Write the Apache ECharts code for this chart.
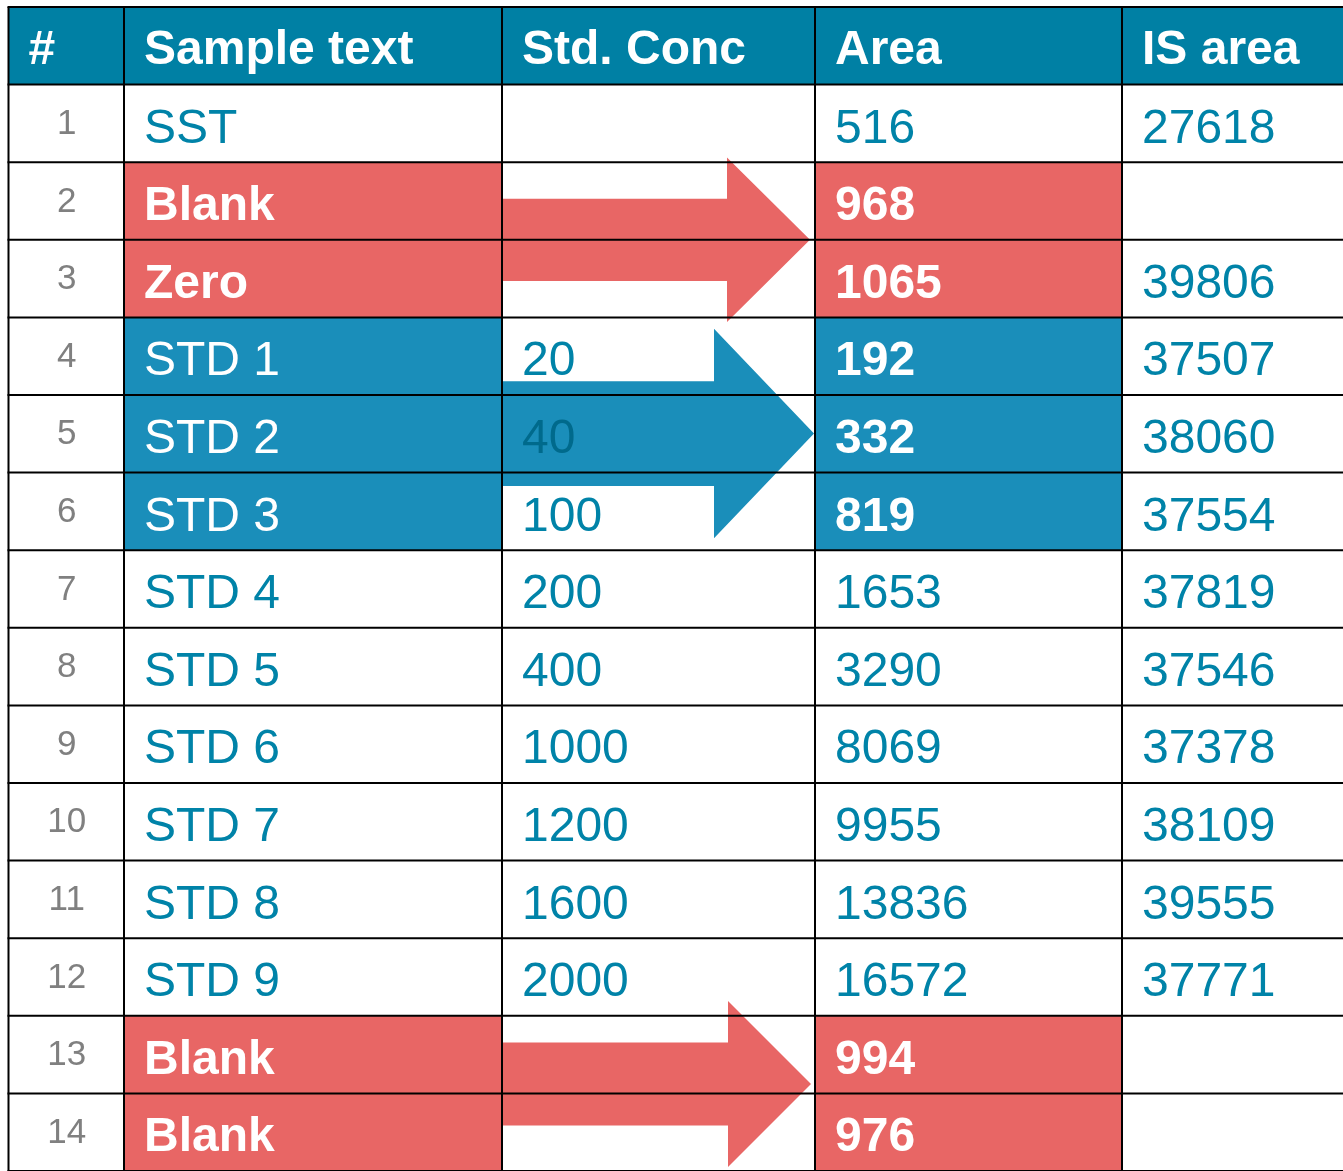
<!DOCTYPE html>
<html><head><meta charset="utf-8">
<style>html,body{margin:0;padding:0;background:#fff}#c{width:1343px;height:1171px}</style>
<script src="https://cdn.jsdelivr.net/npm/echarts@6/dist/echarts.min.js"></script>
</head><body><div id="c"></div>
<script>
// ---- data ----
const headers = ['#', 'Sample text', 'Std. Conc', 'Area', 'IS area'];
const rowNumbers = ['1','2','3','4','5','6','7','8','9','10','11','12','13','14'];
const sampleText = ['SST','Blank','Zero','STD 1','STD 2','STD 3','STD 4','STD 5','STD 6','STD 7','STD 8','STD 9','Blank','Blank'];
const stdConc = ['','','','20','40','100','200','400','1000','1200','1600','2000','',''];
const area = ['516','968','1065','192','332','819','1653','3290','8069','9955','13836','16572','994','976'];
const isArea = ['27618','','39806','37507','38060','37554','37819','37546','37378','38109','39555','37771','',''];
const rowKind = ['plain','blank','blank','std','std','std','plain','plain','plain','plain','plain','plain','blank','blank'];
const arrows = [
  {kind:'blank', fromRow:2, toRow:3},
  {kind:'std',   fromRow:4, toRow:6},
  {kind:'blank', fromRow:13, toRow:14}
];

// ---- layout & style ----
const colEdges = [8.5, 124, 502, 815, 1122, 1420];
const arrowLayout = [
  {dy: 0.0,   half: 1.06, neck: 727, tip: 810},
  {dy: -0.003, half: 1.35, neck: 714, tip: 814},
  {dy: -0.12, half: 1.07, neck: 728, tip: 811}
];
const C = {
  header: '#0080A4',
  red: '#E86665',
  blue: '#1A8EBA',
  teal: '#0083A8',
  tealDark: '#006A8C',
  gray: '#808080',
  white: '#FFFFFF',
  line: '#000000'
};
const FONT = "'Liberation Sans', Arial, sans-serif";
const columns = [rowNumbers, sampleText, stdConc, area, isArea];
const nRows = rowNumbers.length + 1;

const cells = [];
for (let r = 0; r < nRows; r++) for (let c = 0; c < headers.length; c++) cells.push([c, r]);

function fillOf(c, r) {
  if (r === 0) return C.header;
  const k = rowKind[r - 1];
  if ((c === 1 || c === 3) && k === 'blank') return C.red;
  if ((c === 1 || c === 3) && k === 'std') return C.blue;
  return C.white;
}
function arrowGeom(i) {
  const a = arrows[i], L = arrowLayout[i];
  const cy = (a.fromRow + a.toRow + 1) / 2 + L.dy;
  return {cy, h: L.half, s: L.half / 2, x0: colEdges[2], neck: L.neck, tip: L.tip, kind: a.kind};
}
function inShaft(c, r) {
  const cy = r + 0.5;
  for (let i = 0; i < arrows.length; i++) {
    const g = arrowGeom(i);
    if (c === 2 && cy > g.cy - g.s && cy < g.cy + g.s) return true;
  }
  return false;
}

const chart = echarts.init(document.getElementById('c'), null, {width: 1343, height: 1171});
chart.setOption({
  animation: false,
  backgroundColor: '#fff',
  grid: {left: 0, top: 7, width: 1343, height: 77.87 * nRows},
  xAxis: {type: 'value', min: 0, max: 1343, show: false},
  yAxis: {type: 'value', min: 0, max: nRows, inverse: true, show: false},
  series: [
    {
      type: 'custom', z: 1, data: cells,
      renderItem: function (params, api) {
        const c = api.value(0), r = api.value(1);
        const p0 = api.coord([colEdges[c], r]), p1 = api.coord([colEdges[c + 1], r + 1]);
        return {type: 'rect', shape: {x: p0[0], y: p0[1], width: p1[0] - p0[0], height: p1[1] - p0[1]},
          style: {fill: fillOf(c, r)}};
      }
    },
    {
      type: 'custom', z: 2, data: arrows.map((a, i) => [i]),
      renderItem: function (params, api) {
        const g = arrowGeom(api.value(0));
        const pts = [[g.x0, g.cy - g.s], [g.neck, g.cy - g.s], [g.neck, g.cy - g.h], [g.tip, g.cy],
          [g.neck, g.cy + g.h], [g.neck, g.cy + g.s], [g.x0, g.cy + g.s]].map(p => api.coord(p));
        return {type: 'polygon', shape: {points: pts}, style: {fill: g.kind === 'std' ? C.blue : C.red}};
      }
    },
    {
      type: 'custom', z: 3,
      data: colEdges.slice(0, -1).map((x, i) => ['v', i]).concat(Array.from({length: nRows + 1}, (_, i) => ['h', i])),
      renderItem: function (params, api) {
        const item = params.dataIndex < colEdges.length - 1 ? 'v' : 'h';
        let p0, p1;
        if (item === 'v') {
          const x = colEdges[params.dataIndex];
          p0 = api.coord([x, 0]); p1 = api.coord([x, nRows]);
        } else {
          const r = params.dataIndex - (colEdges.length - 1);
          p0 = api.coord([colEdges[0], r]); p1 = api.coord([colEdges[colEdges.length - 1], r]);
          p0[0] -= 1;
        }
        return {type: 'line', shape: {x1: p0[0], y1: p0[1], x2: p1[0], y2: p1[1]},
          style: {stroke: C.line, lineWidth: 2}};
      }
    },
    {
      type: 'custom', z: 4, data: cells,
      renderItem: function (params, api) {
        const c = api.value(0), r = api.value(1);
        const text = r === 0 ? headers[c] : columns[c][r - 1];
        if (!text) return null;
        const p0 = api.coord([colEdges[c], r]), p1 = api.coord([colEdges[c + 1], r + 1]);
        const cy = (p0[1] + p1[1]) / 2;
        const k = r === 0 ? 'head' : rowKind[r - 1];
        let fill = C.teal, weight = 'normal', size = 48, x = p0[0] + 20, align = 'left', y = cy + 6;
        if (r === 0) { fill = C.white; weight = 'bold'; y = cy + 5; }
        else if (c === 0) { fill = C.gray; size = 35; x = (p0[0] + p1[0]) / 2 + 0.5; align = 'center'; y = cy + 1; }
        else if ((c === 1 || c === 3) && k !== 'plain') {
          fill = C.white;
          if (c === 3 || k === 'blank') weight = 'bold';
        } else if (inShaft(c, r)) fill = C.tealDark;
        return {type: 'text', style: {text: text, x: x, y: y, fill: fill, fontSize: size, fontWeight: weight,
          fontFamily: FONT, align: align, verticalAlign: 'middle'}};
      }
    }
  ]
});
</script></body></html>
